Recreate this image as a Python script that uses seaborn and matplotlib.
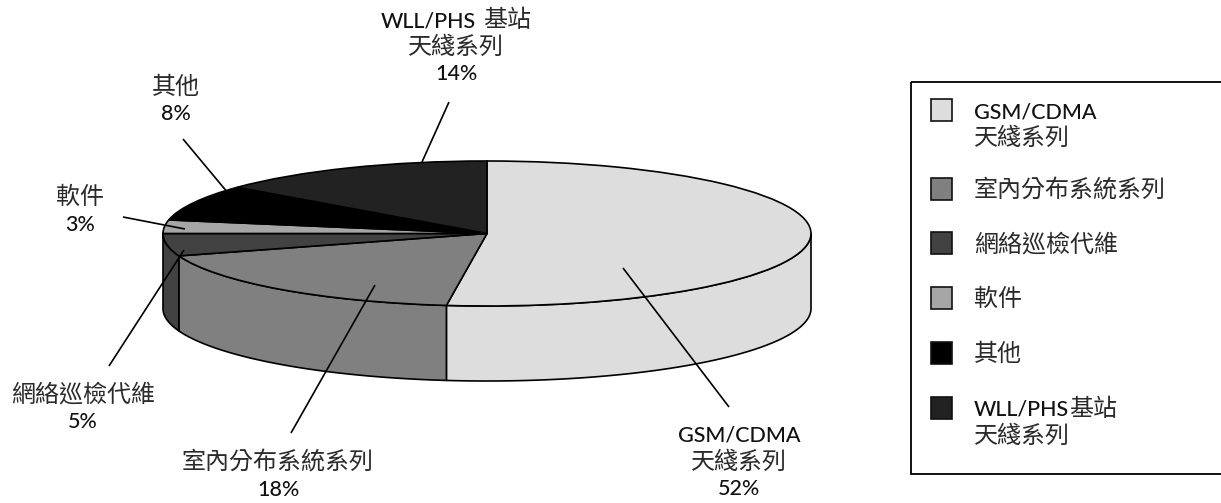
import re
import numpy as np
import matplotlib
matplotlib.use("Agg")
import matplotlib.pyplot as plt
from matplotlib.patches import Rectangle
import seaborn as sns

# ---------- data ----------
categories = ["GSM/CDMA\n天綫系列", "室內分布系統系列", "網絡巡檢代維", "軟件", "其他", "WLL/PHS基站\n天綫系列"]
callouts = ["GSM/CDMA\n天綫系列", "室內分布系統系列", "網絡巡檢代維", "軟件", "其他", "WLL/PHS 基站\n天綫系列"]
shares = [52, 18, 5, 3, 8, 14]
colors = ["#DDDDDD", "#808080", "#424242", "#A6A6A6", "#000000", "#222222"]

# ---------- layout (pixels) ----------
W, H = 1221, 503
CX, CY, RX, RY, DEPTH = 487, 233.5, 324, 72.5, 75
label_xy = [(739, 460.5), (278, 475), (83, 407), (80, 209.5), (176, 99), (456, 45.5)]
leaders = [((729, 407), (623, 268)), ((291, 433), (375, 285)), ((109, 366), (184, 250)),
           ((123, 217), (185, 229)), ((183, 139), (238, 205)), ((449, 102), (422, 162))]
legend_rows = [110, 189, 243, 298, 353, 408]
LINE_PX = 26.5
FS_LATIN, FS_CJK = 15.5, 17.3
LW = 1.2

sns.set_theme(style="white")
plt.rcParams["font.family"] = ["Lato", "Noto Sans CJK TC", "DejaVu Sans"]
palette = sns.color_palette(colors)

fig = plt.figure(figsize=(W / 100, H / 100), dpi=100, facecolor="white")
ax = fig.add_axes([0, 0, 1, 1])
ax.pie(shares, colors=palette, startangle=90, counterclock=False, radius=1,
       wedgeprops=dict(edgecolor="black", linewidth=LW, zorder=3))
ax.set_aspect("auto")
ax.set_xlim(-CX / RX, (W - CX) / RX)
ax.set_ylim((CY - H) / RY, CY / RY)
ax.axis("off")

# front wall of the disc, built from the same shares
drop = DEPTH / RY
edges = np.cumsum([0] + shares) / sum(shares) * 2 * np.pi  # clockwise from 12 o'clock
for start, end, col in zip(edges[:-1], edges[1:], palette):
    lo, hi = max(start, np.pi / 2), min(end, 3 * np.pi / 2)
    if hi <= lo:
        continue
    t = np.linspace(lo, hi, 200)
    xs, ys = np.sin(t), np.cos(t)
    ax.fill(np.r_[xs, xs[::-1]], np.r_[ys, ys[::-1] - drop], facecolor=col,
            edgecolor="black", linewidth=LW, joinstyle="round", zorder=2)

# overlay in pixel coordinates for callouts and legend
ov = fig.add_axes([0, 0, 1, 1], facecolor="none")
ov.set_xlim(0, W)
ov.set_ylim(H, 0)
ov.axis("off")
renderer = fig.canvas.get_renderer()


def put_line(x, y, line, ha):
    """Place one line of text, Latin and CJK runs each at their own size."""
    runs = re.findall(r"[\x00-\x7f]+|[^\x00-\x7f]+", line)
    arts, widths = [], []
    for run in runs:
        latin = run[0].isascii()
        art = ov.text(0, y + 8, run.rstrip(), ha="left", va="baseline",
                      fontsize=FS_LATIN if latin else FS_CJK,
                      fontweight="medium" if latin else "normal",
                      color="#111111" if latin else "#2a2a2a")
        gap = 7 if run != run.rstrip() else 0
        arts.append(art)
        widths.append(art.get_window_extent(renderer).width + gap)
    left = x - sum(widths) / 2 if ha == "center" else x
    for art, w in zip(arts, widths):
        art.set_x(left)
        left += w


for name, val, (x, y), (p0, p1) in zip(callouts, shares, label_xy, leaders):
    ov.plot([p0[0], p1[0]], [p0[1], p1[1]], color="black", lw=LW, solid_capstyle="butt", zorder=5)
    lines = name.split("\n") + [f"{val}%"]
    y0 = y - (len(lines) - 1) / 2 * LINE_PX
    for i, ln in enumerate(lines):
        put_line(x, y0 + i * LINE_PX, ln, "center")

ov.add_patch(Rectangle((910.5, 81.5), 330, 392, facecolor="none", edgecolor="black", lw=LW + 0.1))
for name, col, row in zip(categories, palette, legend_rows):
    ov.add_patch(Rectangle((930.5, row - 11), 21.5, 22, facecolor=col, edgecolor="#111111", lw=LW))
    for i, ln in enumerate(name.split("\n")):
        put_line(974, row + i * LINE_PX, ln, "left")

fig.savefig("out.png", dpi=100)
